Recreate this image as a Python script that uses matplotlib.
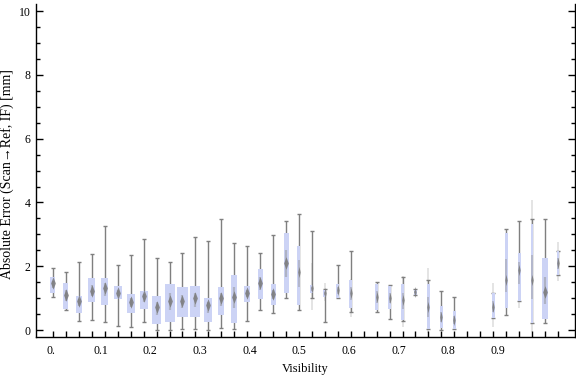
import numpy as np
import matplotlib
matplotlib.use('Agg')
import matplotlib.pyplot as plt
from matplotlib.ticker import FixedLocator, MultipleLocator

plt.rcParams['font.family'] = ['Liberation Serif', 'DejaVu Serif']

# one box per visibility bin (0.025 wide); None = empty bin
visibility = [i * 0.025 for i in range(40)]
whisk_lo = [1.02, 0.63, 0.27, 0.31, 0.24, 0.12, 0.08, 0.24, 0.00, 0.00,
            0.03, 0.03, 0.00, 0.06, 0.03, 0.27, 0.62, 0.52, 0.99, 0.62,
            0.99, 0.26, 1.00, 0.55, None, 0.55, 0.34, 0.27, 1.10, 0.02,
            0.00, 0.02, None, None, 0.37, 0.48, 0.91, 0.21, 0.21, 1.73]
q1 = [1.15, 0.66, 0.54, 0.87, 0.77, 0.98, 0.54, 0.67, 0.20, 0.26,
      0.42, 0.42, 0.26, 0.48, 0.23, 0.89, 0.96, 0.79, 1.17, 0.79,
      1.15, 1.02, 1.00, 0.70, None, 0.62, 0.65, 0.30, 1.11, 0.02,
      0.07, 0.02, None, None, 0.37, 0.70, 0.91, 0.23, 0.36, 1.73]
median = [1.46, 1.09, 0.91, 1.22, 1.33, 1.16, 0.88, 1.06, 0.71, 0.91,
          0.91, 0.99, 0.77, 0.99, 1.04, 1.15, 1.48, 1.12, 2.09, 1.83,
          1.31, 1.15, 1.25, 1.15, None, 1.04, 1.01, 0.94, 1.18, 0.73,
          0.42, 0.31, None, None, 0.73, 1.57, 1.88, 1.57, 1.18, 2.09]
q3 = [1.66, 1.47, 1.07, 1.63, 1.63, 1.38, 1.13, 1.22, 1.07, 1.44,
      1.35, 1.38, 1.00, 1.35, 1.71, 1.38, 1.90, 1.43, 3.04, 2.62,
      1.41, 1.25, 1.44, 1.57, None, 1.44, 1.38, 1.44, 1.25, 1.44,
      0.75, 0.60, None, None, 1.15, 3.03, 2.41, 3.34, 2.26, 2.47]
whisk_hi = [1.93, 1.81, 2.12, 2.38, 3.27, 2.03, 2.35, 2.86, 2.25, 2.12,
            2.43, 2.91, 2.78, 3.47, 2.72, 2.62, 2.43, 2.98, 3.41, 3.63,
            3.10, 1.28, 2.03, 2.47, None, 1.50, 1.40, 1.65, 1.28, 1.57,
            1.22, 1.03, None, None, 1.15, 3.16, 3.41, 3.47, 3.49, 2.47]
# box width (visibility units), Mathematica scales it with the bin count
box_width = [0.0097, 0.0097, 0.013, 0.013, 0.0135, 0.0155, 0.015, 0.0155, 0.0175, 0.0193,
             0.0203, 0.0193, 0.0155, 0.0116, 0.0116, 0.0106, 0.0097, 0.0097, 0.0097, 0.0058,
             0.0058, 0.0058, 0.0058, 0.0058, None, 0.0068, 0.0068, 0.0058, 0.0048, 0.0058,
             0.0058, 0.0058, None, None, 0.0052, 0.0058, 0.0058, 0.0052, 0.0122, 0.0048]
# faint outlier traces (bin index, low, high)
ghost_bin = [20, 21, 23, 27, 29, 34, 36, 37, 39]
ghost_lo = [0.63, 0.90, 0.42, 0.10, -0.10, 0.10, 0.68, -0.05, 1.54]
ghost_hi = [2.09, 1.46, 1.60, 1.70, 1.94, 1.46, 2.00, 4.08, 2.77]

tick_values = [0.0, 0.1, 0.2, 0.3, 0.4, 0.5, 0.6, 0.7, 0.8, 0.9]
tick_labels = ['0.', '0.1', '0.2', '0.3', '0.4', '0.5', '0.6', '0.7', '0.8', '0.9']

box_color = '#ccd3f5'
line_color = '#7f7f7f'

fig = plt.figure(figsize=(5.76, 3.77), dpi=100)
ax = fig.add_axes([0.0625, 0.106, 0.9355, 0.883])

for k, lo, hi in zip(ghost_bin, ghost_lo, ghost_hi):
    ax.vlines(visibility[k], lo, hi, color='#b0b0b0', lw=1.4, alpha=0.35, zorder=1)

for x, wl, a, m, b, wh, w in zip(visibility, whisk_lo, q1, median, q3, whisk_hi, box_width):
    if m is None:
        continue
    ax.vlines(x, wl, wh, color=line_color, lw=1.0, zorder=2)
    ax.plot([x, x], [wl, wh], ls='none', marker='_', ms=3.2, mew=1.0, color=line_color, zorder=2)
    ax.bar(x, b - a, bottom=a, width=w, color=box_color, edgecolor='none', zorder=3)
    # blurred median marker
    thin = w < 0.008
    ax.vlines(x, m - 0.45 * (m - a), m + 0.45 * (b - m), color='#8a8a8a',
              lw=1.2 if thin else 1.6, alpha=0.45, zorder=4)
    verts = [(0, -1), (0.22 if thin else 0.38, 0), (0, 1), (-0.22 if thin else -0.38, 0)]
    ax.plot(x, m, ls='none', marker=verts, ms=8 if thin else 9, color='#7a7a7a',
            mec='none', alpha=0.85, zorder=5)

ax.set_xlim(-0.0328, 1.0077)
ax.set_ylim(-0.22, 10.22)

# Mathematica spaces its labels slightly tighter than the bins
ax.xaxis.set_major_locator(FixedLocator([v * 0.959 - 0.004 for v in tick_values]))
ax.set_xticklabels(tick_labels)
ax.xaxis.set_minor_locator(FixedLocator(visibility))
ax.yaxis.set_major_locator(MultipleLocator(2))
ax.yaxis.set_minor_locator(MultipleLocator(0.5))

ax.tick_params(axis='x', which='major', direction='in', length=0, pad=6, labelsize=8.5)
ax.tick_params(axis='x', which='minor', direction='in', length=4, width=1)
ax.tick_params(axis='y', which='major', direction='in', length=5, width=1, right=True, labelsize=8.5, pad=4)
ax.tick_params(axis='y', which='minor', direction='in', length=3, width=1, right=True)

for s in ['left', 'bottom', 'right']:
    ax.spines[s].set_linewidth(1.0)
ax.spines['top'].set_visible(False)

ax.set_xlabel('Visibility', fontsize=9, labelpad=4)
ax.set_ylabel('Absolute Error (Scan\u2192Ref, IF) [mm]', fontsize=10)
ax.yaxis.set_label_coords(-0.041, 0.49)

fig.savefig('out.png', dpi=100)
